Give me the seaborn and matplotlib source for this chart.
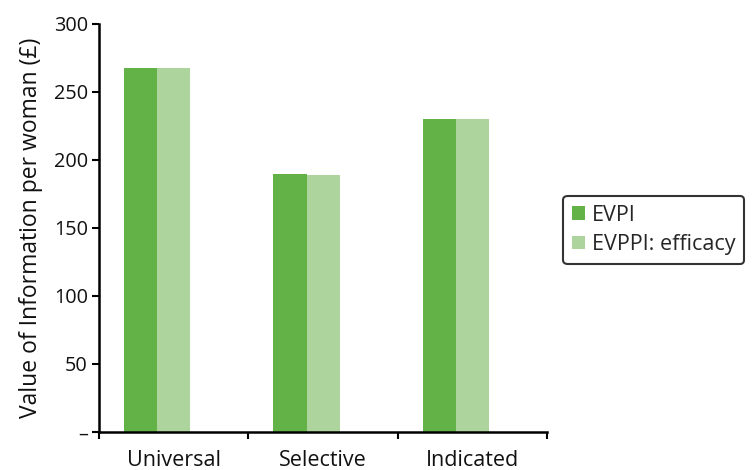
import matplotlib
matplotlib.use("Agg")
import matplotlib.pyplot as plt
import seaborn as sns
import pandas as pd

categories = ["Universal", "Selective", "Indicated"]
series_names = ["EVPI", "EVPPI: efficacy"]
evpi = [267.5, 189.5, 230.0]
evppi_efficacy = [267.5, 189.0, 230.0]
y_ticks = [0, 50, 100, 150, 200, 250, 300]
y_tick_labels = ["–", "50", "100", "150", "200", "250", "300"]

df = pd.DataFrame({
    "category": categories * 2,
    "series": [series_names[0]] * 3 + [series_names[1]] * 3,
    "value": evpi + evppi_efficacy,
})

sns.set_style("ticks")
plt.rcParams["font.family"] = ["Open Sans", "DejaVu Sans"]

fig = plt.figure(figsize=(7.53, 4.70), dpi=100)
ax = fig.add_axes([0.1315, 0.081, 0.595, 0.868])

palette = {"EVPI": "#63B247", "EVPPI: efficacy": "#AED49E"}
sns.barplot(data=df, x="category", y="value", hue="series", order=categories,
            hue_order=series_names, palette=palette, width=0.445, ax=ax,
            saturation=1, linewidth=0, legend=True)

ax.set_ylim(0, 300)
ax.set_xlim(-0.39, 2.61)
ax.set_yticks(y_ticks)
ax.set_yticklabels(y_tick_labels, fontsize=14.3, color="#111111")
ax.set_ylabel("Value of Information per woman (£)", fontsize=16.5, labelpad=8, color="#111111")
ax.set_xlabel("")

# tick marks at category boundaries, labels at category centres
ax.set_xticks([-0.39, 0.61, 1.61, 2.61])
ax.set_xticklabels([])
ax.set_xticks([0.11, 1.11, 2.11], minor=True)
ax.set_xticklabels(categories, minor=True, fontsize=15.5, color="#111111")
ax.tick_params(axis="x", which="minor", length=0, pad=13)
ax.tick_params(axis="both", which="major", length=5, width=1.5, color="black", direction="out")
ax.tick_params(axis="y", pad=3)

for s in ["top", "right"]:
    ax.spines[s].set_visible(False)
for s in ["left", "bottom"]:
    ax.spines[s].set_linewidth(1.8)
    ax.spines[s].set_color("black")

handles, labels = ax.get_legend_handles_labels()
ax.legend_.remove()
leg = fig.legend(handles, labels, loc="upper left", bbox_to_anchor=(0.748, 0.583),
                 bbox_transform=fig.transFigure, borderaxespad=0, frameon=True,
                 fancybox=True, edgecolor="black", fontsize=15.5,
                 handlelength=0.6, handleheight=0.6, handletextpad=0.35,
                 labelspacing=0.4, borderpad=0.4)
leg.get_frame().set_linewidth(1.5)

fig.savefig("out.png", dpi=100)
